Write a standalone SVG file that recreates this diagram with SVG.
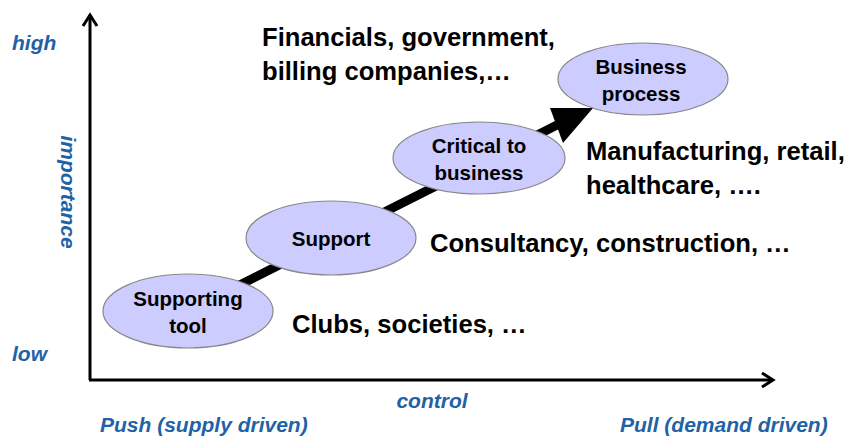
<svg xmlns="http://www.w3.org/2000/svg" width="851" height="440" viewBox="0 0 851 440">
<defs>
<style>
.ax{fill:none;stroke:#000;stroke-width:3}
.node ellipse{fill:#ccccff;stroke:#888;stroke-width:1.2}
.nt{font-family:"Liberation Sans",Arial,sans-serif;font-weight:bold;font-size:20.5px;fill:#000;text-anchor:middle}
.big{font-family:"Liberation Sans",Arial,sans-serif;font-weight:bold;font-size:25.6px;fill:#000}
.lab{font-family:"Liberation Sans",Arial,sans-serif;font-weight:bold;font-style:italic;font-size:21px;fill:#1f62a6}
</style>
</defs>
<rect width="851" height="440" fill="#fff"/>
<g id="axes">
<path class="ax" d="M90,380 V15"/>
<path class="ax" d="M83,26 L90,15 L97,26"/>
<path class="ax" d="M89,380 H773"/>
<path class="ax" d="M762,373 L773,380 L762,387"/>
</g>
<g id="connectors">
<path d="M188,311 L557,125" stroke="#000" stroke-width="9" fill="none"/>
<polygon points="550,108 593,108 563,143" fill="#000"/>
</g>
<g id="n1" class="node"><ellipse cx="188" cy="311" rx="85" ry="37"/><text class="nt" x="188" y="306">Supporting</text><text class="nt" x="188" y="333">tool</text></g>
<g id="n2" class="node"><ellipse cx="331" cy="238" rx="85" ry="37"/><text class="nt" x="331" y="246">Support</text></g>
<g id="n3" class="node"><ellipse cx="479" cy="158" rx="86" ry="36"/><text class="nt" x="479" y="153">Critical to</text><text class="nt" x="479" y="180">business</text></g>
<g id="n4" class="node"><ellipse cx="643" cy="79" rx="85" ry="36"/><text class="nt" x="641" y="74">Business</text><text class="nt" x="641" y="101">process</text></g>
<g id="texts">
<text class="big" x="262" y="46">Financials, government,</text>
<text class="big" x="262" y="80">billing companies,…</text>
<text class="big" x="586" y="160">Manufacturing, retail,</text>
<text class="big" x="586" y="194">healthcare, ….</text>
<text class="big" x="430" y="252">Consultancy, construction, …</text>
<text class="big" x="292" y="333">Clubs, societies, …</text>
<text class="lab" x="12" y="50">high</text>
<text class="lab" x="12" y="361">low</text>
<text class="lab" text-anchor="middle" transform="translate(61,192) rotate(90)">importance</text>
<text class="lab" x="432" y="408" text-anchor="middle">control</text>
<text class="lab" x="100" y="432">Push (supply driven)</text>
<text class="lab" x="620" y="432">Pull (demand driven)</text>
</g>
</svg>
